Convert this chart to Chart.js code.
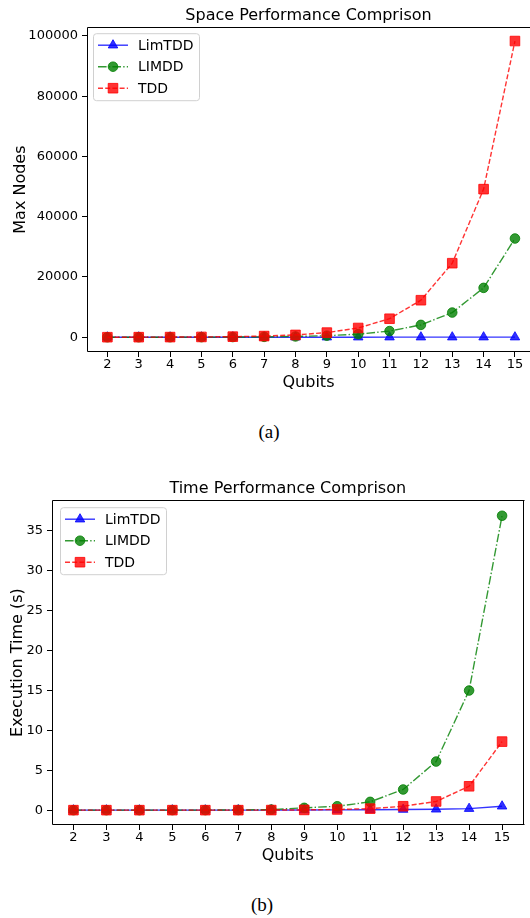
<!DOCTYPE html>
<html>
<head>
<meta charset="utf-8">
<title>Space / Time Performance Comprison</title>
<script src="https://cdn.jsdelivr.net/npm/chart.js@4.4.1/dist/chart.umd.min.js"></script>
<style>
  html, body { margin: 0; padding: 0; background: #fff; overflow: hidden; width: 530px; height: 918px; }
  .wrap { position: absolute; left: 0; width: 530px; height: 400px; }
  #wrapA { top: 0; }
  #wrapB { top: 473px; }
  .cap {
    position: absolute;
    font-family: 'Liberation Serif', 'Times New Roman', serif;
    font-size: 19px;
    color: #000;
    transform: translate(-50%, -50%);
  }
</style>
</head>
<body>
<div class="wrap" id="wrapA"><canvas id="spaceChart" width="530" height="400"></canvas></div>
<div class="cap" style="left:269px; top:432px;">(a)</div>
<div class="wrap" id="wrapB"><canvas id="timeChart" width="530" height="400"></canvas></div>
<div class="cap" style="left:262px; top:905px;">(b)</div>

<script>
// data
const qubits = [2, 3, 4, 5, 6, 7, 8, 9, 10, 11, 12, 13, 14, 15];

const spaceLimTDD = [4, 6, 8, 10, 12, 14, 16, 18, 20, 22, 24, 26, 28, 30];
const spaceLIMDD = [4, 8, 16, 32, 64, 128, 256, 512, 1024, 2048, 4096, 8192, 16384, 32768];
const spaceTDD = [12, 24, 48, 96, 192, 384, 768, 1536, 3072, 6144, 12288, 24576, 49152, 98304];
const spaceTicks = [0, 20000, 40000, 60000, 80000, 100000];

const timeLimTDD = [0.01, 0.01, 0.01, 0.01, 0.01, 0.02, 0.02, 0.03, 0.04, 0.06, 0.09, 0.12, 0.2, 0.5];
const timeLIMDD = [0.01, 0.01, 0.01, 0.02, 0.02, 0.03, 0.08, 0.3, 0.5, 1.05, 2.6, 6.1, 15.0, 36.9];
const timeTDD = [0.01, 0.01, 0.01, 0.01, 0.01, 0.01, 0.02, 0.04, 0.1, 0.2, 0.5, 1.1, 3.0, 8.6];
const timeTicks = [0, 5, 10, 15, 20, 25, 30, 35];

const seriesNames = ['LimTDD', 'LIMDD', 'TDD'];

Chart.defaults.font.family = "'DejaVu Sans', sans-serif";
Chart.defaults.color = '#000';

const blue = 'rgba(0, 0, 255, 0.8)';
const green = 'rgba(0, 128, 0, 0.8)';
const red = 'rgba(255, 0, 0, 0.8)';

const DASHED = [5, 2.2];
const DASHDOT = [8.6, 2.2, 1.4, 2.2];

function toPoints(values) {
  return qubits.map((q, i) => ({ x: q, y: values[i] }));
}

function makeDatasets(limtdd, limdd, tdd) {
  return [
    {
      label: seriesNames[0], data: toPoints(limtdd),
      borderColor: blue, backgroundColor: blue,
      pointStyle: 'triangle', pointRadius: 5.5, legendRadius: 5.5,
      borderDash: [], order: 3
    },
    {
      label: seriesNames[1], data: toPoints(limdd),
      borderColor: green, backgroundColor: green,
      pointStyle: 'circle', pointRadius: 4.8, legendRadius: 4.8,
      borderDash: DASHDOT, order: 2
    },
    {
      label: seriesNames[2], data: toPoints(tdd),
      borderColor: red, backgroundColor: red,
      pointStyle: 'rect', pointRadius: 6.8, legendRadius: 6.8,
      borderDash: DASHED, order: 1
    }
  ].map(ds => Object.assign(ds, {
    borderWidth: 1.4,
    pointBorderWidth: 1,
    pointBackgroundColor: ds.backgroundColor,
    pointBorderColor: ds.borderColor,
    tension: 0,
    fill: false,
    clip: 20
  }));
}

// box spines like matplotlib (right one can be off when the axes run past the crop)
const spinesPlugin = {
  id: 'spines',
  afterDatasetsDraw(chart, args, opts) {
    const { ctx, chartArea: a } = chart;
    const l = Math.round(a.left) + 0.5, t = Math.round(a.top) + 0.5;
    const r = Math.round(a.right) - 0.5, b = Math.round(a.bottom) - 0.5;
    ctx.save();
    ctx.strokeStyle = '#000';
    ctx.lineWidth = 1;
    ctx.beginPath();
    ctx.moveTo(r + 1, t); ctx.lineTo(l, t); ctx.lineTo(l, b); ctx.lineTo(r + 1, b);
    if (opts.right !== false) { ctx.moveTo(r, t); ctx.lineTo(r, b); }
    ctx.stroke();
    ctx.restore();
  }
};

// legend box with line sample + marker
const boxLegendPlugin = {
  id: 'boxLegend',
  afterDraw(chart, args, opts) {
    const { ctx, chartArea: a } = chart;
    const x = a.left + opts.dx, y = a.top + opts.dy;
    const w = 106, h = 67;
    ctx.save();
    ctx.beginPath();
    ctx.roundRect(x + 0.5, y + 0.5, w, h, 3);
    ctx.fillStyle = 'rgba(255,255,255,0.8)';
    ctx.fill();
    ctx.strokeStyle = '#d0d0d0';
    ctx.lineWidth = 1;
    ctx.stroke();

    chart.data.datasets.forEach((ds, i) => {
      const cy = y + 12 + i * 21.5;
      ctx.beginPath();
      ctx.setLineDash(ds.borderDash);
      ctx.strokeStyle = ds.borderColor;
      ctx.lineWidth = ds.borderWidth;
      ctx.moveTo(x + 5, cy);
      ctx.lineTo(x + 35, cy);
      ctx.stroke();
      ctx.setLineDash([]);
      ctx.fillStyle = ds.backgroundColor;
      ctx.strokeStyle = ds.borderColor;
      ctx.lineWidth = 1;
      Chart.helpers.drawPoint(ctx, { pointStyle: ds.pointStyle, rotation: 0, radius: ds.legendRadius, borderWidth: 1 }, x + 20, cy);
      ctx.fillStyle = '#000';
      ctx.font = "14px 'DejaVu Sans'";
      ctx.textBaseline = 'middle';
      ctx.textAlign = 'left';
      ctx.fillText(ds.label, x + 45, cy + 1);
    });
    ctx.restore();
  }
};

function buildChart(id, opts) {
  const ctx = document.getElementById(id);
  return new Chart(ctx, {
    type: 'line',
    data: { datasets: opts.datasets },
    plugins: [spinesPlugin, boxLegendPlugin],
    options: {
      responsive: false,
      animation: false,
      devicePixelRatio: 1,
      layout: { autoPadding: false, padding: { left: 0, right: opts.padRight, top: 0, bottom: 0 } },
      plugins: {
        legend: { display: false },
        tooltip: { enabled: false },
        title: {
          display: true,
          text: opts.title,
          fullSize: false,
          color: '#000',
          font: { size: 16, weight: 'normal' },
          padding: { top: 6, bottom: 2 }
        },
        boxLegend: { dx: opts.legendDx, dy: opts.legendDy },
        spines: { right: opts.rightSpine }
      },
      scales: {
        x: {
          type: 'linear',
          min: 1.35,
          max: opts.xMax,
          afterBuildTicks: s => { s.ticks = qubits.map(v => ({ value: v })); },
          // fixed height, and no extra room reserved for the end labels
          afterFit: s => { s.height = 48; s.paddingLeft = 0; s.paddingRight = 0; },
          ticks: { font: { size: 13 }, color: '#000', padding: 0, maxRotation: 0, autoSkip: false },
          grid: { drawOnChartArea: false, drawTicks: true, tickLength: 5, color: '#000' },
          border: { display: false },
          title: { display: true, text: 'Qubits', font: { size: 16 }, color: '#000', padding: 8 }
        },
        y: {
          type: 'linear',
          min: opts.yMin,
          max: opts.yMax,
          afterBuildTicks: s => { s.ticks = opts.yTicks.map(v => ({ value: v })); },
          afterFit: s => { s.width = opts.yWidth; s.paddingTop = 0; s.paddingBottom = 0; },
          ticks: { font: { size: 13 }, color: '#000', padding: 4, autoSkip: false, callback: v => String(v) },
          grid: { drawOnChartArea: false, drawTicks: true, tickLength: 5, color: '#000' },
          border: { display: false },
          title: { display: true, text: opts.yLabel, font: { size: 16 }, color: '#000', padding: opts.yTitlePad }
        }
      }
    }
  });
}

// (a) runs past the right edge of the crop, so it ends at 15.48 with no right spine
buildChart('spaceChart', {
  title: 'Space Performance Comprison',
  yLabel: 'Max Nodes',
  datasets: makeDatasets(spaceLimTDD, spaceLIMDD, spaceTDD),
  xMax: 15.48,
  yMin: -4900, yMax: 102900, yTicks: spaceTicks,
  yWidth: 87, yTitlePad: 11, padRight: 0, rightSpine: false,
  legendDx: 6, legendDy: 6
});

buildChart('timeChart', {
  title: 'Time Performance Comprison',
  yLabel: 'Execution Time (s)',
  datasets: makeDatasets(timeLimTDD, timeLIMDD, timeTDD),
  xMax: 15.65,
  yMin: -1.85, yMax: 38.85, yTicks: timeTicks,
  yWidth: 52, yTitlePad: 8, padRight: 6.5, rightSpine: true,
  legendDx: 8, legendDy: 7
});
</script>
</body>
</html>
